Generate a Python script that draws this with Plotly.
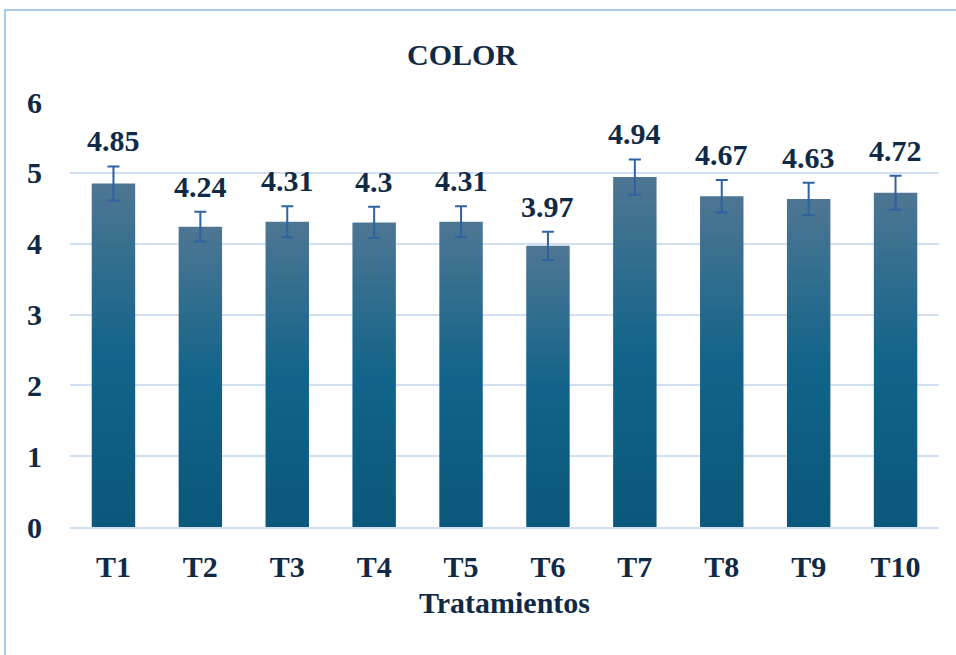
import plotly.graph_objects as go

categories = ["T1", "T2", "T3", "T4", "T5", "T6", "T7", "T8", "T9", "T10"]
values = [4.85, 4.24, 4.31, 4.30, 4.31, 3.97, 4.94, 4.67, 4.63, 4.72]
errors = [0.24, 0.21, 0.22, 0.22, 0.22, 0.20, 0.25, 0.23, 0.23, 0.24]
labels = ["4.85", "4.24", "4.31", "4.3", "4.31", "3.97", "4.94", "4.67", "4.63", "4.72"]

FONT = "Liberation Serif"
TXT = "#102a46"
BAR_W = 0.5
grad = [[0, "#0a587b"], [0.5, "#12648a"], [1, "#4e7693"]]

def f(size=30):
    return dict(family=FONT, size=size, color=TXT, weight="bold")

fig = go.Figure()
idx = list(range(len(categories)))
for i, v in zip(idx, values):
    fig.add_trace(go.Scatter(
        x=[i - BAR_W / 2, i + BAR_W / 2, i + BAR_W / 2, i - BAR_W / 2, i - BAR_W / 2],
        y=[0, 0, v, v, 0],
        mode="lines", line=dict(width=0), fill="toself",
        fillgradient=dict(type="vertical", colorscale=grad),
        hoverinfo="skip", showlegend=False,
    ))

fig.add_trace(go.Scatter(
    x=idx, y=values, mode="markers",
    marker=dict(size=1, color="rgba(0,0,0,0)"),
    error_y=dict(type="data", array=errors, color="#2e62a0", thickness=2, width=6),
    showlegend=False, name="Color",
))

for i, v, e, t in zip(idx, values, errors, labels):
    fig.add_annotation(x=i, y=v + e, text=t, showarrow=False,
                       yanchor="bottom", yshift=7, font=f())

L, R, T, B = 70, 17, 102, 128
W, H = 956, 655
pw, ph = W - L - R, H - T - B
fig.add_shape(type="rect", xref="paper", yref="paper",
              x0=(5 - L) / pw, x1=(W + 20 - L) / pw,
              y0=-(H + 20 - (T + ph)) / ph, y1=(T + ph - 10) / ph,
              line=dict(color="#a9c9e9", width=2), fillcolor="rgba(0,0,0,0)", layer="below")

fig.update_layout(
    width=W, height=H,
    margin=dict(l=L, r=R, t=T, b=B),
    paper_bgcolor="white", plot_bgcolor="white",
    title=dict(text="COLOR", x=462 / W, xref="container", xanchor="center",
               y=1 - 54 / H, yref="container", yanchor="middle", font=f()),
    xaxis=dict(range=[-0.5, 9.5], tickvals=idx, ticktext=categories,
               showgrid=False, zeroline=False, showline=True, linecolor="#d0e0f2", linewidth=2,
               ticks="", ticklabelstandoff=12, tickfont=f(),
               title=dict(text="Tratamientos", standoff=10, font=f())),
    yaxis=dict(range=[0, 6], dtick=1, showgrid=True, gridcolor="#d0e0f2", gridwidth=2,
               zeroline=False, ticks="", ticklabelstandoff=27, tickfont=f()),
)

fig.write_html("out.html", config={"displayModeBar": False},
               post_script="document.body.style.margin='0';")
